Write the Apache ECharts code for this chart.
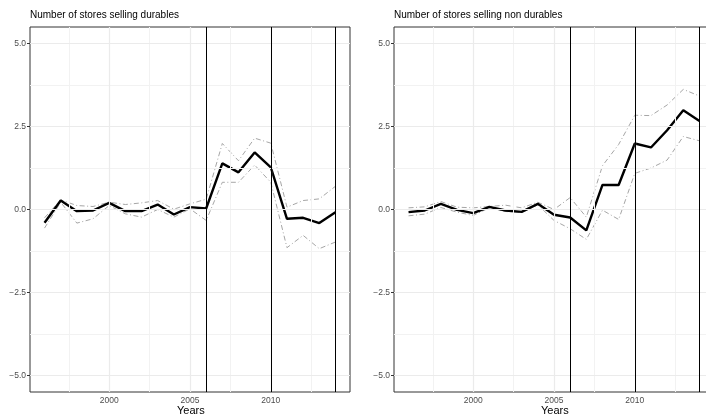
<!DOCTYPE html>
<html>
<head>
<meta charset="utf-8">
<script src="https://cdn.jsdelivr.net/npm/echarts@6/dist/echarts.min.js"></script>
<style>
  html, body { margin: 0; padding: 0; background: #fff; }
  #chart { width: 706px; height: 416px; }
</style>
</head>
<body>
<div id="chart"></div>
<script>
// years on the x axis
const years = [1996, 1997, 1998, 1999, 2000, 2001, 2002, 2003, 2004, 2005,
  2006, 2007, 2008, 2009, 2010, 2011, 2012, 2013, 2014];

// durables: estimate and band
const durMain = [-0.40, 0.27, -0.05, -0.03, 0.20, -0.05, -0.05, 0.15, -0.15, 0.07,
  0.03, 1.39, 1.12, 1.72, 1.27, -0.28, -0.25, -0.41, -0.08];
const durUpper = [-0.25, 0.29, 0.12, 0.09, 0.22, 0.15, 0.20, 0.27, 0.01, 0.17,
  0.31, 1.99, 1.47, 2.15, 2.00, 0.07, 0.27, 0.32, 0.70];
const durLower = [-0.56, 0.22, -0.41, -0.28, 0.12, -0.13, -0.23, 0.00, -0.23, 0.02,
  -0.33, 0.82, 0.82, 1.34, 0.82, -1.15, -0.78, -1.18, -0.98];

// non durables: estimate and band
const ndMain = [-0.08, -0.03, 0.17, -0.01, -0.11, 0.08, -0.03, -0.07, 0.17, -0.16,
  -0.24, -0.63, 0.74, 0.74, 1.99, 1.87, 2.39, 2.99, 2.67];
const ndUpper = [0.05, 0.08, 0.24, 0.07, 0.05, 0.09, 0.13, 0.05, 0.22, 0.00,
  0.36, -0.23, 1.32, 1.96, 2.84, 2.83, 3.15, 3.62, 3.42];
const ndLower = [-0.19, -0.14, 0.06, -0.08, -0.18, 0.05, -0.06, -0.09, 0.14, -0.33,
  -0.58, -0.90, -0.02, -0.30, 1.09, 1.25, 1.49, 2.20, 2.07];

// vertical reference lines
const breakYears = [2006, 2010, 2014];

// axis breaks
const xTicks = [2000, 2005, 2010];
const xMinor = [1997.5, 2002.5, 2007.5, 2012.5];
const yTicks = [-5, -2.5, 0, 2.5, 5];
const yMinor = [-3.75, -1.25, 1.25, 3.75];

const titles = ["Number of stores selling durables", "Number of stores selling non durables"];
const xTitle = "Years";

function pairs(vals) {
  return years.map((y, i) => [y, vals[i]]);
}

function fmtY(v) {
  const s = Math.abs(v).toFixed(1);
  return v < 0 ? "\u2212" + s : s;
}

const panelLeft = [30, 394];
const panelWidth = 320;

let grids = [], xAxes = [], yAxes = [], series = [], titleList = [], graphics = [];

[[durMain, durUpper, durLower], [ndMain, ndUpper, ndLower]].forEach((set, k) => {
  grids.push({
    left: panelLeft[k], top: 27, width: panelWidth, height: 365,
    outerBoundsMode: "none",
    show: true, borderColor: "#333", borderWidth: 1, backgroundColor: "#fff"
  });
  titleList.push({
    text: titles[k], left: panelLeft[k], top: 10, padding: 0,
    textStyle: { fontFamily: "Liberation Sans", fontSize: 10, fontWeight: "normal", color: "#000" }
  });
  // x axis title under each panel
  graphics.push({
    type: "text", left: panelLeft[k] + panelWidth / 2 - 13, top: 405,
    style: { text: xTitle, font: "11px 'Liberation Sans'", fill: "#000" }
  });
  xAxes.push({
    gridIndex: k, type: "value", min: 1995.1, max: 2014.9,
    axisLine: { show: false },
    axisTick: { show: true, length: 3, customValues: xTicks, lineStyle: { color: "#333" } },
    axisLabel: { customValues: xTicks, margin: 4, fontFamily: "Liberation Sans", fontSize: 8.5, color: "#4d4d4d",
      formatter: v => String(v) },
    splitLine: { show: false }
  });
  yAxes.push({
    gridIndex: k, type: "value", min: -5.5, max: 5.5,
    axisLine: { show: false },
    axisTick: { show: true, length: 3, customValues: yTicks, lineStyle: { color: "#333" } },
    axisLabel: { customValues: yTicks, margin: 4, fontFamily: "Liberation Sans", fontSize: 8.5, color: "#4d4d4d",
      formatter: fmtY },
    splitLine: { show: false }
  });

  // background grid lines
  series.push({
    type: "line", xAxisIndex: k, yAxisIndex: k, data: [], z: 1, silent: true,
    markLine: {
      symbol: "none", silent: true, label: { show: false },
      data: [
        ...xMinor.map(v => ({ xAxis: v, lineStyle: { color: "#f2f2f2", width: 1, type: "solid" } })),
        ...yMinor.map(v => ({ yAxis: v, lineStyle: { color: "#f2f2f2", width: 1, type: "solid" } })),
        ...xTicks.map(v => ({ xAxis: v, lineStyle: { color: "#ebebeb", width: 1.2, type: "solid" } })),
        ...yTicks.map(v => ({ yAxis: v, lineStyle: { color: "#ebebeb", width: 1.2, type: "solid" } }))
      ]
    }
  });

  // confidence band lines
  [set[1], set[2]].forEach(b => {
    series.push({
      type: "line", xAxisIndex: k, yAxisIndex: k, data: pairs(b), z: 3,
      symbol: "none", silent: true,
      lineStyle: { color: "#a6a6a6", width: 1, type: [5, 2.5, 1, 2.5] }
    });
  });

  // estimate
  series.push({
    type: "line", xAxisIndex: k, yAxisIndex: k, data: pairs(set[0]), z: 4,
    symbol: "none", silent: true,
    lineStyle: { color: "#000", width: 2.4 },
    markLine: {
      symbol: "none", silent: true, label: { show: false },
      lineStyle: { color: "#000", width: 1, type: "solid" },
      data: breakYears.map(v => ({ xAxis: v }))
    }
  });
});

const chart = echarts.init(document.getElementById("chart"), null, { renderer: "canvas" });
chart.setOption({
  animation: false,
  backgroundColor: "#fff",
  title: titleList,
  grid: grids,
  xAxis: xAxes,
  yAxis: yAxes,
  graphic: graphics,
  series: series
});
</script>
</body>
</html>
